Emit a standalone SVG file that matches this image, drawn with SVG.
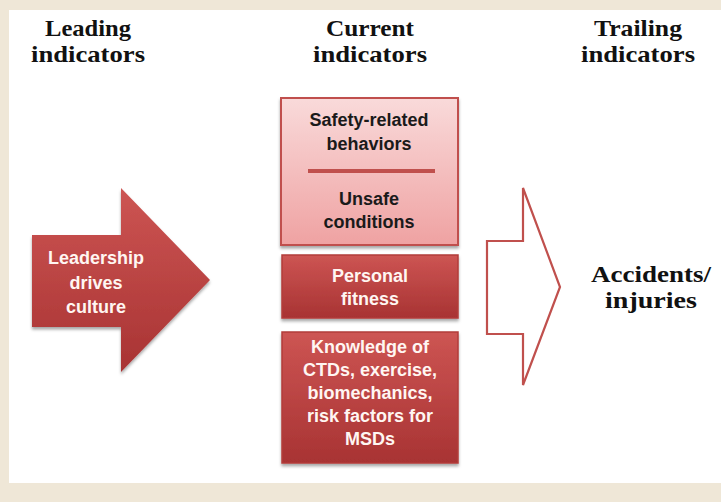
<svg xmlns="http://www.w3.org/2000/svg" width="721" height="502" viewBox="0 0 721 502">
  <defs>
    <linearGradient id="redFill" x1="0" y1="0" x2="0" y2="1">
      <stop offset="0" stop-color="#cd5553"/>
      <stop offset="1" stop-color="#a83333"/>
    </linearGradient>
    <linearGradient id="pinkFill" x1="0" y1="0" x2="0" y2="1">
      <stop offset="0" stop-color="#f9dada"/>
      <stop offset="1" stop-color="#efa2a2"/>
    </linearGradient>
    <filter id="shadow" x="-10%" y="-10%" width="120%" height="125%">
      <feDropShadow dx="0" dy="2.5" stdDeviation="1.8" flood-color="#000" flood-opacity="0.35"/>
    </filter>
    <style>
      .head { font-family: "Liberation Serif", "Times New Roman", serif; font-weight: bold; font-size: 23px; fill: #111; text-anchor: middle; }
      .lbl { font-family: "Liberation Sans", Arial, sans-serif; font-weight: bold; font-size: 18px; text-anchor: middle; }
      .dark { fill: #1a1a1a; }
      .light { fill: #fff6f2; }
      .redbox { fill: url(#redFill); stroke: #b23c3a; stroke-width: 1.5; filter: url(#shadow); }
      .pinkbox { fill: url(#pinkFill); stroke: #c0504d; stroke-width: 2; filter: url(#shadow); }
    </style>
  </defs>

  <!-- page frame -->
  <rect x="0" y="0" width="721" height="502" fill="#efe7d7"/>
  <rect x="9" y="10" width="712" height="473" fill="#ffffff"/>

  <!-- column headings -->
  <g id="heading-leading">
    <text class="head" x="88" y="36" textLength="86" lengthAdjust="spacingAndGlyphs">Leading</text>
    <text class="head" x="88" y="62" textLength="114" lengthAdjust="spacingAndGlyphs">indicators</text>
  </g>
  <g id="heading-current">
    <text class="head" x="370" y="36" textLength="88" lengthAdjust="spacingAndGlyphs">Current</text>
    <text class="head" x="370" y="62" textLength="114" lengthAdjust="spacingAndGlyphs">indicators</text>
  </g>
  <g id="heading-trailing">
    <text class="head" x="638" y="36" textLength="88" lengthAdjust="spacingAndGlyphs">Trailing</text>
    <text class="head" x="638" y="62" textLength="114" lengthAdjust="spacingAndGlyphs">indicators</text>
  </g>

  <!-- flow arrows -->
  <g id="connectors">
    <polygon id="arrow-leading" points="32,235 121,235 121,188 210,280 121,372 121,327 32,327" fill="url(#redFill)" filter="url(#shadow)"/>
    <polygon id="arrow-trailing" points="487,241 523,241 523,188 560,287 523,385 523,334 487,334" fill="#ffffff" stroke="#c0504d" stroke-width="2.2" stroke-linejoin="miter"/>
  </g>

  <g id="node-leadership">
    <text class="lbl light" x="96" y="264">Leadership</text>
    <text class="lbl light" x="96" y="289">drives</text>
    <text class="lbl light" x="96" y="313">culture</text>
  </g>

  <g id="node-behaviors-conditions">
    <rect class="pinkbox" x="281" y="98" width="177" height="147"/>
    <text class="lbl dark" x="369" y="126">Safety-related</text>
    <text class="lbl dark" x="369" y="150">behaviors</text>
    <line x1="308" y1="171" x2="435" y2="171" stroke="#c0504d" stroke-width="4"/>
    <text class="lbl dark" x="369" y="205">Unsafe</text>
    <text class="lbl dark" x="369" y="228">conditions</text>
  </g>

  <g id="node-fitness">
    <rect class="redbox" x="282" y="255" width="176" height="63"/>
    <text class="lbl light" x="370" y="282">Personal</text>
    <text class="lbl light" x="370" y="305">fitness</text>
  </g>

  <g id="node-knowledge">
    <rect class="redbox" x="282" y="332" width="176" height="131"/>
    <text class="lbl light" x="370" y="353">Knowledge of</text>
    <text class="lbl light" x="370" y="376">CTDs, exercise,</text>
    <text class="lbl light" x="370" y="399">biomechanics,</text>
    <text class="lbl light" x="370" y="422">risk factors for</text>
    <text class="lbl light" x="370" y="445">MSDs</text>
  </g>

  <g id="node-accidents">
    <text class="head" x="651" y="282" textLength="120" lengthAdjust="spacingAndGlyphs">Accidents/</text>
    <text class="head" x="651" y="308" textLength="92" lengthAdjust="spacingAndGlyphs">injuries</text>
  </g>
</svg>
